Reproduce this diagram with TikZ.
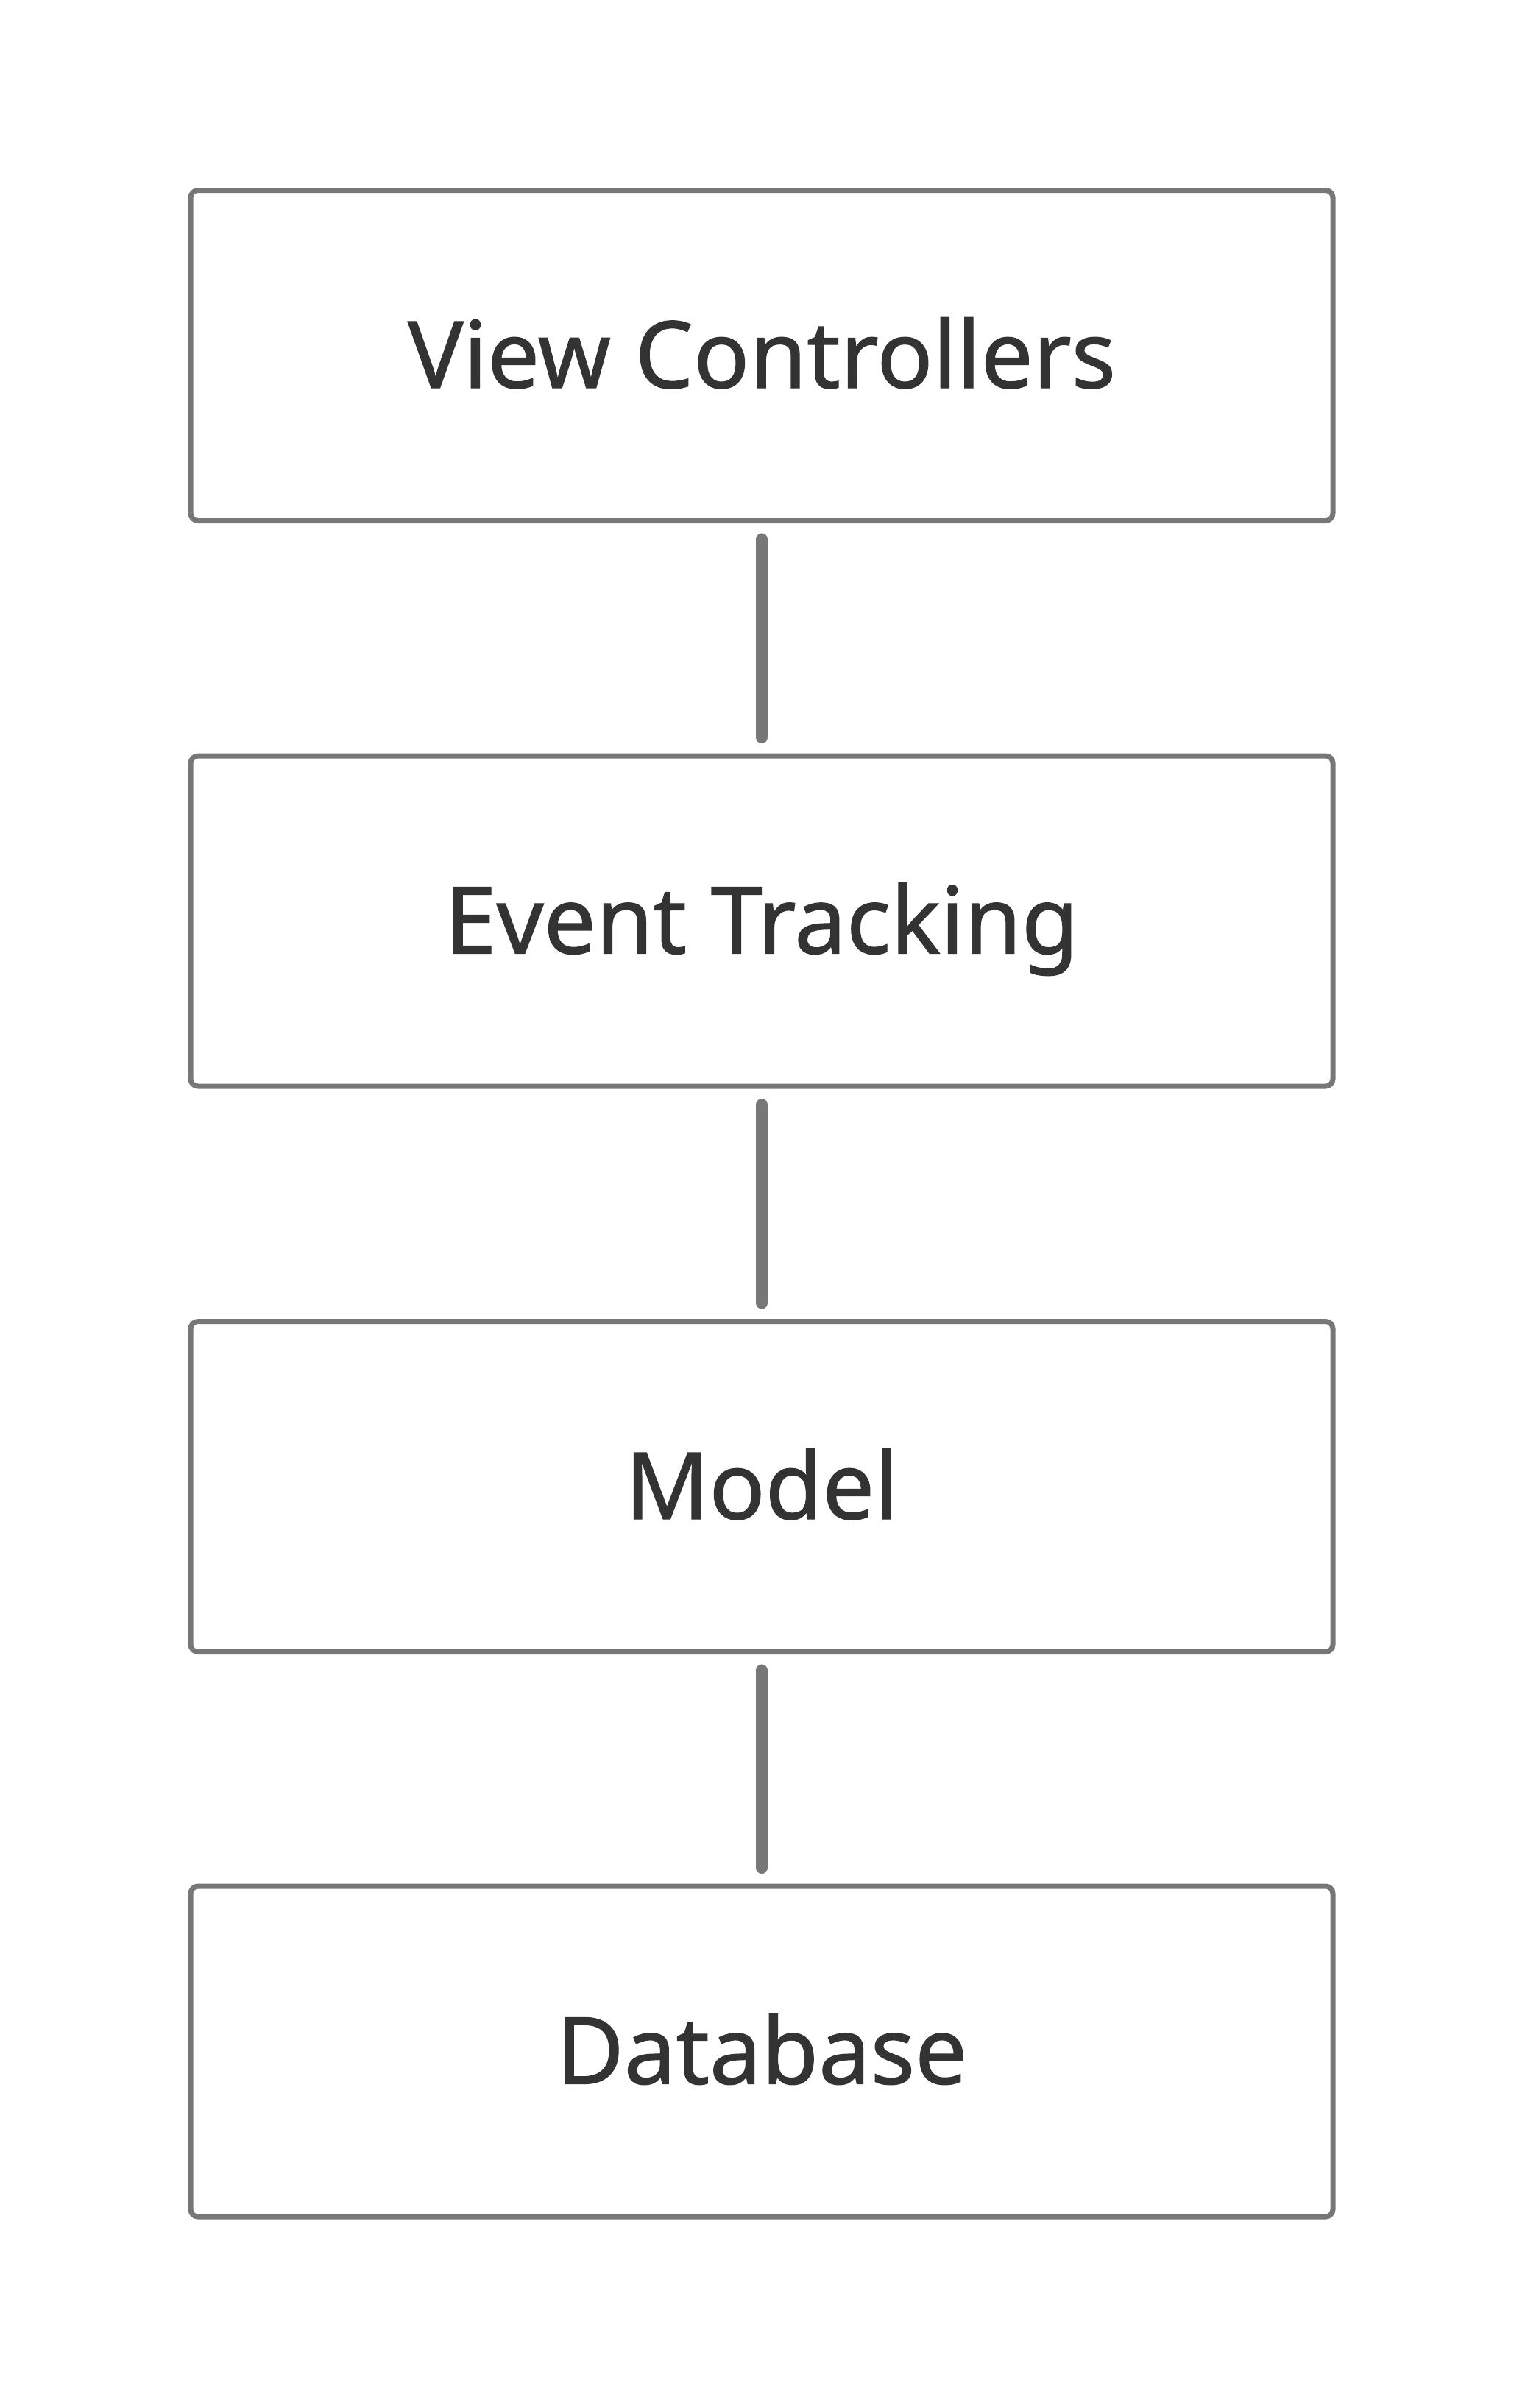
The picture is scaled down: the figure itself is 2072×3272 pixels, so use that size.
\documentclass[tikz,border=0pt]{standalone}
\usepackage{fontspec}
\setmainfont[FakeBold=1]{Noto Sans}
\definecolor{edge}{HTML}{777777}
\definecolor{ink}{HTML}{333333}
\begin{document}
\begin{tikzpicture}[x=0.5pt,y=-0.5pt,
  layer/.style={draw=edge, line width=3.5pt, rounded corners=5pt,
    minimum width=776pt, minimum height=224.5pt, inner sep=0pt, outer sep=0pt,
    text height=44pt, text depth=0pt,
    font=\fontsize{63}{76}\selectfont\bfseries, text=ink},
  link/.style={draw=edge, line width=8pt, line cap=round,
    shorten <=12.5pt, shorten >=12.5pt}]
\useasboundingbox[fill=white] (0,0) rectangle (2072,3272);
\node[layer] (vc) at (1035,483) {View Controllers};
\node[layer] (et) at (1035,1251.5) {Event Tracking};
\node[layer] (md) at (1035,2020) {Model};
\node[layer] (db) at (1035,2787.5) {Database};
\draw[link] (vc.south) -- (et.north);
\draw[link] (et.south) -- (md.north);
\draw[link] (md.south) -- (db.north);
\end{tikzpicture}
\end{document}
